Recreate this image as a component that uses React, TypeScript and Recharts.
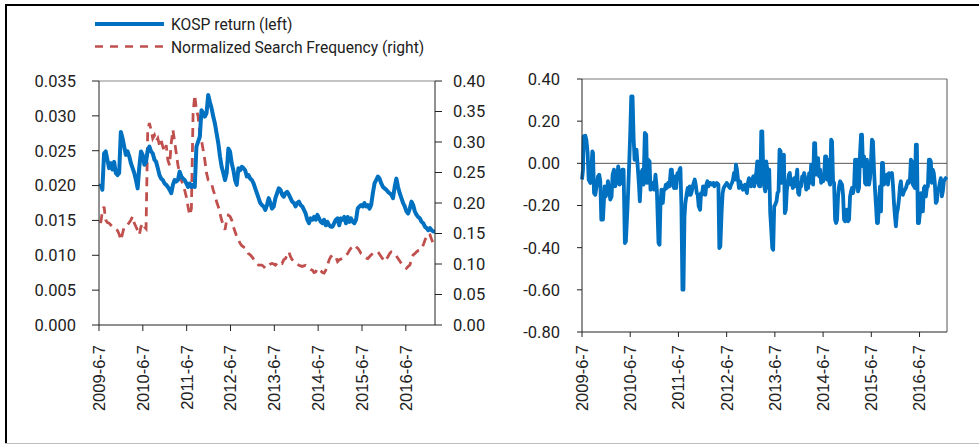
import React from 'react';
import { LineChart, Line, XAxis, YAxis, ReferenceLine } from 'recharts';

// ---------- categories / tick labels ----------
const yearTickLabels = ['2009-6-7', '2010-6-7', '2011-6-7', '2012-6-7', '2013-6-7', '2014-6-7', '2015-6-7', '2016-6-7'];
const WEEKS_PER_YEAR = 52.18;
const yearTicks = yearTickLabels.map((_, i) => i * WEEKS_PER_YEAR);

const leftTicks = [0, 0.005, 0.01, 0.015, 0.02, 0.025, 0.03, 0.035];
const rightTicks = [0, 0.05, 0.1, 0.15, 0.2, 0.25, 0.3, 0.35, 0.4];
const corrTicks = [-0.8, -0.6, -0.4, -0.2, 0, 0.2, 0.4];

// ---------- left panel: bi-weekly observations (week = 2, 4, 6, ...) ----------
const LEFT_FIRST_WEEK = 2;
const LEFT_STEP_WEEKS = 2;

const kospReturn = [
  0.0203, 0.0194, 0.0246, 0.0249, 0.0237, 0.0225, 0.0232, 0.0223, 0.0234, 0.0218,
  0.0215, 0.0218, 0.0277, 0.0268, 0.0256, 0.0244, 0.0249, 0.0242, 0.0232, 0.0225,
  0.0218, 0.0208, 0.0196, 0.0227, 0.0249, 0.0244, 0.0230, 0.0234, 0.0251, 0.0256,
  0.0249, 0.0246, 0.0237, 0.0234, 0.0225, 0.0215, 0.0210, 0.0208, 0.0203, 0.0201,
  0.0198, 0.0194, 0.0189, 0.0201, 0.0208, 0.0206, 0.0208, 0.0220, 0.0213, 0.0210,
  0.0208, 0.0203, 0.0198, 0.0203, 0.0198, 0.0201, 0.0198, 0.0256, 0.0263, 0.0270,
  0.0308, 0.0304, 0.0299, 0.0304, 0.0330, 0.0320, 0.0311, 0.0299, 0.0289, 0.0275,
  0.0261, 0.0242, 0.0227, 0.0218, 0.0208, 0.0218, 0.0253, 0.0249, 0.0232, 0.0222,
  0.0208, 0.0201, 0.0225, 0.0222, 0.0227, 0.0225, 0.0222, 0.0213, 0.0215, 0.0210,
  0.0208, 0.0203, 0.0196, 0.0189, 0.0182, 0.0175, 0.0172, 0.0170, 0.0165, 0.0172,
  0.0182, 0.0175, 0.0167, 0.0170, 0.0182, 0.0189, 0.0196, 0.0194, 0.0187, 0.0184,
  0.0189, 0.0191, 0.0187, 0.0182, 0.0177, 0.0175, 0.0170, 0.0175, 0.0177, 0.0172,
  0.0170, 0.0165, 0.0160, 0.0151, 0.0146, 0.0153, 0.0151, 0.0155, 0.0151, 0.0158,
  0.0153, 0.0148, 0.0146, 0.0151, 0.0143, 0.0148, 0.0143, 0.0141, 0.0141, 0.0146,
  0.0151, 0.0153, 0.0143, 0.0153, 0.0151, 0.0155, 0.0146, 0.0155, 0.0148, 0.0153,
  0.0148, 0.0146, 0.0151, 0.0167, 0.0170, 0.0172, 0.0170, 0.0175, 0.0170, 0.0172,
  0.0167, 0.0172, 0.0189, 0.0203, 0.0208, 0.0213, 0.0210, 0.0203, 0.0198, 0.0196,
  0.0194, 0.0191, 0.0189, 0.0187, 0.0182, 0.0198, 0.0210, 0.0198, 0.0189, 0.0182,
  0.0175, 0.0170, 0.0163, 0.0160, 0.0167, 0.0177, 0.0172, 0.0163, 0.0158, 0.0155,
  0.0153, 0.0148, 0.0146, 0.0141, 0.0139, 0.0136, 0.0139, 0.0136, 0.0134, 0.0134,
];

const searchFreq = [
  0.167, 0.186, 0.194, 0.172, 0.168, 0.167, 0.164, 0.161, 0.160, 0.158,
  0.155, 0.149, 0.139, 0.150, 0.161, 0.162, 0.164, 0.168, 0.172, 0.178,
  0.167, 0.161, 0.155, 0.148, 0.161, 0.167, 0.161, 0.158, 0.320, 0.331,
  0.320, 0.306, 0.311, 0.301, 0.306, 0.295, 0.303, 0.292, 0.284, 0.295,
  0.270, 0.262, 0.298, 0.320, 0.301, 0.281, 0.262, 0.249, 0.238, 0.229,
  0.221, 0.210, 0.194, 0.180, 0.191, 0.347, 0.377, 0.352, 0.342, 0.314,
  0.303, 0.287, 0.270, 0.249, 0.238, 0.236, 0.232, 0.221, 0.213, 0.202,
  0.194, 0.183, 0.172, 0.164, 0.156, 0.172, 0.180, 0.178, 0.172, 0.161,
  0.153, 0.145, 0.139, 0.134, 0.130, 0.128, 0.126, 0.123, 0.117, 0.115,
  0.112, 0.108, 0.104, 0.101, 0.098, 0.098, 0.098, 0.096, 0.093, 0.096,
  0.098, 0.100, 0.101, 0.100, 0.098, 0.101, 0.104, 0.102, 0.101, 0.107,
  0.109, 0.115, 0.120, 0.112, 0.107, 0.104, 0.101, 0.100, 0.098, 0.097,
  0.096, 0.097, 0.098, 0.096, 0.093, 0.091, 0.090, 0.086, 0.087, 0.093,
  0.091, 0.089, 0.086, 0.085, 0.090, 0.098, 0.107, 0.112, 0.115, 0.113,
  0.111, 0.104, 0.107, 0.108, 0.109, 0.112, 0.115, 0.117, 0.122, 0.126,
  0.128, 0.131, 0.128, 0.126, 0.122, 0.117, 0.115, 0.112, 0.110, 0.109,
  0.112, 0.115, 0.117, 0.119, 0.120, 0.120, 0.116, 0.112, 0.108, 0.104,
  0.108, 0.112, 0.117, 0.120, 0.119, 0.117, 0.113, 0.109, 0.105, 0.101,
  0.098, 0.096, 0.093, 0.096, 0.098, 0.107, 0.115, 0.117, 0.120, 0.122,
  0.123, 0.124, 0.131, 0.139, 0.145, 0.150, 0.148, 0.140, 0.134, 0.128,
];

// ---------- right panel: weekly observations ----------
const corrWeeks = [
  0, 1.1, 1.8, 3.6, 4.7, 6.1, 7.2, 9.0, 10.1, 11.2, 11.9,
  13.0, 14.4, 15.8, 17.3, 18.7, 19.8, 20.9, 22.7, 24.5, 25.6,
  27.0, 28.1, 29.2, 30.6, 32.0, 33.1, 34.6, 36.0, 37.8, 39.2,
  40.7, 42.1, 43.5, 45.0, 46.4, 47.5, 49.3, 51.1, 52.2, 53.3,
  54.7, 55.8, 56.9, 57.9, 59.0, 60.5, 61.5, 62.6, 64.1, 65.5,
  66.6, 68.0, 69.5, 70.5, 71.6, 73.1, 74.1, 75.6, 76.7, 78.1,
  79.5, 81.0, 82.8, 83.9, 84.9, 86.0, 87.5, 88.5, 89.6, 90.7,
  91.8, 93.2, 94.7, 96.1, 97.2, 98.3, 99.7, 100.8, 101.9, 103.3,
  104.4, 105.5, 106.5, 107.6, 108.7, 109.8, 110.9, 111.9, 113.4, 114.4,
  115.5, 116.6, 117.7, 118.8, 119.8, 120.9, 122.0, 123.1, 124.2, 125.2,
  126.3, 127.8, 128.8, 129.9, 131.0, 132.4, 133.5, 134.6, 135.7, 136.8,
  137.8, 138.9, 140.0, 141.1, 142.2, 143.2, 144.3, 145.8, 147.6, 148.6,
  149.7, 151.2, 152.2, 153.3, 154.4, 155.5, 156.6, 157.6, 158.7, 160.2,
  161.2, 162.3, 163.4, 164.5, 165.6, 166.6, 167.7, 168.8, 169.9, 171.0,
  172.0, 173.1, 174.2, 175.3, 176.4, 177.4, 178.5, 179.6, 180.7, 181.7,
  182.8, 183.9, 185.3, 186.4, 187.5, 188.6, 189.7, 190.7, 191.8, 192.9,
  194.0, 195.1, 196.1, 197.2, 198.3, 199.4, 200.5, 201.5, 202.6, 203.7,
  204.8, 205.9, 206.9, 208.0, 209.1, 210.5, 211.6, 212.7, 213.8, 214.9,
  215.9, 217.0, 218.5, 219.5, 220.6, 221.7, 222.8, 223.9, 224.9, 226.0,
  227.1, 228.2, 229.6, 230.7, 231.8, 232.9, 233.9, 235.0, 236.1, 237.2,
  238.3, 239.3, 240.4, 241.5, 242.6, 243.7, 244.7, 245.8, 246.9, 248.0,
  249.1, 250.1, 251.2, 252.3, 253.4, 254.5, 255.5, 256.6, 257.7, 258.8,
  259.9, 260.9, 262.0, 263.1, 264.2, 265.2, 266.3, 267.4, 268.5, 269.6,
  270.6, 271.7, 272.8, 273.9, 275.0, 276.0, 277.1, 278.2, 279.3, 280.4,
  281.4, 282.5, 283.6, 284.7, 285.8, 286.8, 287.9, 289.0, 290.1, 291.2,
  292.2, 293.3, 294.4, 295.5, 296.6, 297.6, 298.7, 299.8, 300.9, 302.0,
  303.0, 304.1, 305.2, 306.3, 307.4, 308.4, 309.5, 310.6, 311.7, 312.8,
  313.8, 314.9, 316.0, 317.1, 318.2, 319.2, 320.3, 321.4, 322.5, 323.6,
  324.6, 325.7, 326.8, 327.9, 329.0, 330.0, 331.1, 332.2, 333.3, 334.3,
  335.4, 336.5, 337.6, 338.7, 339.7, 340.8, 341.9, 343.0, 344.1, 345.1,
  346.2, 347.3, 348.4, 349.5, 350.5, 351.6, 352.7, 353.8, 354.9, 355.9,
  357.0, 358.1, 359.2, 360.3, 361.3, 362.4, 363.5, 364.6, 365.7, 366.7,
  367.8, 368.9, 370.0, 371.1, 372.1, 373.2, 374.3, 375.4, 376.5, 377.5,
  378.6, 379.7, 380.7, 381.8, 382.9, 384.0, 385.1, 386.2, 387.2, 388.3,
  389.4, 390.5, 391.6, 392.6, 393.7, 394.8,
];

const corrValues = [
  -0.077, -0.030, 0.128, 0.131, 0.112, 0.049, -0.077, -0.093, -0.030, 0.057, 0.049,
  -0.141, -0.149, -0.109, -0.062, -0.054, -0.085, -0.267, -0.267, -0.109, -0.157,
  -0.133, -0.085, -0.125, -0.172, -0.157, -0.054, -0.030, -0.109, -0.077, -0.014,
  -0.101, -0.093, -0.030, -0.030, -0.378, -0.370, -0.204, 0.002, 0.144, 0.318,
  0.318, 0.128, 0.017, 0.065, 0.065, -0.030, -0.093, -0.180, -0.046, -0.030,
  -0.101, 0.144, 0.136, -0.093, 0.017, 0.009, -0.125, -0.117, -0.093, -0.125,
  -0.054, -0.125, -0.378, -0.386, -0.196, -0.125, -0.188, -0.125, -0.125, -0.101,
  -0.117, -0.093, -0.109, -0.030, -0.030, -0.101, -0.117, -0.062, -0.117, -0.046,
  -0.062, -0.030, -0.022, -0.204, -0.599, -0.599, -0.251, -0.188, -0.141, -0.117,
  -0.149, -0.109, -0.149, -0.133, -0.109, -0.093, -0.077, -0.101, -0.141, -0.149,
  -0.204, -0.220, -0.141, -0.149, -0.109, -0.125, -0.149, -0.101, -0.085, -0.109,
  -0.093, -0.093, -0.101, -0.101, -0.093, -0.109, -0.101, -0.093, -0.101, -0.402,
  -0.394, -0.220, -0.141, -0.117, -0.109, -0.101, -0.093, -0.101, -0.109, -0.117,
  -0.101, -0.093, -0.077, -0.046, -0.077, -0.006, -0.030, -0.077, -0.117, -0.085,
  -0.101, -0.117, -0.125, -0.109, -0.101, -0.125, -0.141, -0.093, -0.070, -0.093,
  -0.109, -0.085, -0.062, -0.109, -0.062, -0.046, 0.009, -0.093, -0.109, -0.109,
  0.152, 0.152, -0.030, -0.109, -0.133, 0.009, -0.030, -0.117, -0.030, -0.236,
  -0.315, -0.402, -0.410, -0.204, -0.196, -0.180, -0.141, -0.133, 0.065, 0.057,
  -0.093, 0.033, 0.041, -0.236, -0.220, -0.125, -0.093, -0.054, -0.046, -0.101,
  -0.093, -0.117, -0.070, -0.109, -0.077, -0.030, -0.141, -0.149, -0.093, -0.109,
  -0.062, -0.070, -0.046, -0.070, -0.125, -0.093, -0.117, -0.046, -0.093, -0.006,
  -0.014, -0.101, 0.096, 0.096, -0.054, -0.030, 0.025, -0.062, -0.030, -0.093,
  -0.070, -0.085, -0.062, 0.033, 0.033, -0.077, 0.017, -0.085, -0.101, 0.112,
  0.104, -0.085, -0.093, -0.267, -0.283, -0.267, -0.157, -0.109, -0.085, -0.093,
  -0.101, -0.149, -0.267, -0.275, -0.267, -0.220, -0.275, -0.267, -0.157, -0.133,
  -0.117, -0.141, -0.117, 0.017, -0.062, 0.017, -0.133, -0.117, 0.049, 0.136,
  0.136, -0.014, 0.033, -0.093, -0.101, 0.017, -0.077, -0.101, -0.070, 0.017,
  0.112, 0.104, -0.030, -0.125, -0.204, -0.283, -0.283, -0.188, -0.109, -0.228,
  0.002, 0.002, -0.101, -0.077, -0.062, -0.054, -0.101, -0.046, -0.054, -0.054,
  -0.046, -0.101, -0.188, -0.251, -0.299, -0.236, -0.212, -0.172, -0.109, -0.085,
  -0.141, -0.149, -0.133, -0.125, -0.117, -0.101, -0.085, -0.093, -0.077, 0.017,
  0.009, -0.101, -0.109, -0.117, 0.089, 0.089, -0.283, -0.283, -0.236, -0.141,
  -0.228, -0.228, -0.117, -0.109, -0.157, -0.117, -0.109, 0.017, 0.017, 0.009,
  -0.093, -0.030, -0.046, -0.093, -0.188, -0.180, -0.125, -0.117, -0.093, -0.070,
  -0.157, -0.133, -0.085, -0.077, -0.070, -0.065,
];

// ---------- tables built from the arrays ----------
const leftData = kospReturn.map((v, i) => ({
  week: LEFT_FIRST_WEEK + LEFT_STEP_WEEKS * i,
  kosp: v,
  search: searchFreq[i],
}));
const rightData = corrWeeks.map((w, i) => ({ week: w, corr: corrValues[i] }));

const BLUE = '#0070C0';
const RED = '#C0504D';
const AXIS = '#222222';
const TEXT = '#222222';
const NUM_FONT = 'Roboto, "Open Sans", sans-serif';
const DATE_FONT = '"Liberation Sans", Arial, sans-serif';

const DateTick = (props: any) => {
  const { x, y, payload } = props;
  const idx = Math.round(payload.value / WEEKS_PER_YEAR);
  return (
    <text
      x={x}
      y={y}
      dy="0.36em"
      textAnchor="end"
      transform={`rotate(-90, ${x}, ${y})`}
      fontFamily={DATE_FONT}
      fontSize={16.5}
      fill={TEXT}
    >
      {yearTickLabels[idx]}
    </text>
  );
};

const numTick = { fontFamily: NUM_FONT, fontSize: 16.5, fill: TEXT };

export default function App() {
  return (
    <div style={{ position: 'absolute', left: 0, top: 0, width: 979, height: 445, background: '#fff', overflow: 'hidden' }}>
      {/* frame + legend */}
      <svg width={979} height={445} style={{ position: 'absolute', left: 0, top: 0 }}>
        <line x1={5} y1={5} x2={979} y2={5} stroke="#000" strokeWidth={2} />
        <line x1={6} y1={4} x2={6} y2={444} stroke="#000" strokeWidth={2} />
        <line x1={5} y1={443.5} x2={979} y2={443.5} stroke="#bdbdbd" strokeWidth={1} />
        <line x1={95} y1={24} x2={164} y2={24} stroke={BLUE} strokeWidth={4} />
        <text x={171} y={24} dy="0.36em" fontFamily={NUM_FONT} fontSize={15.6} fill={TEXT}>KOSP return (left)</text>
        <line x1={95} y1={46.5} x2={164} y2={46.5} stroke={RED} strokeWidth={2.6} strokeDasharray="8 7" />
        <text x={171} y={47} dy="0.36em" fontFamily={NUM_FONT} fontSize={15.6} fill={TEXT}>Normalized Search Frequency (right)</text>
      </svg>

      {/* left panel */}
      <div style={{ position: 'absolute', left: 0, top: 0 }}>
        <LineChart width={490} height={445} data={leftData} margin={{ top: 81, right: 0, bottom: 0, left: 0 }}>
          <XAxis
            type="number"
            dataKey="week"
            domain={[0, 400]}
            ticks={yearTicks}
            interval={0}
            height={120}
            tickSize={6}
            tickMargin={14}
            stroke={AXIS}
            tick={<DateTick />}
          />
          <YAxis
            yAxisId="l"
            domain={[0, 0.035]}
            ticks={leftTicks}
            interval={0}
            width={99}
            tickSize={7}
            tickMargin={16}
            stroke={AXIS}
            tick={numTick}
            tickFormatter={(v: number) => v.toFixed(3)}
          />
          <YAxis
            yAxisId="r"
            orientation="right"
            domain={[0, 0.4]}
            ticks={rightTicks}
            interval={0}
            width={55}
            tickSize={7}
            tickMargin={11}
            stroke={AXIS}
            tick={numTick}
            tickFormatter={(v: number) => v.toFixed(2)}
          />
          <ReferenceLine yAxisId="l" y={0.035} stroke="#888" strokeWidth={1} />
          <Line
            yAxisId="r"
            type="linear"
            dataKey="search"
            stroke={RED}
            strokeWidth={2.8}
            strokeDasharray="9 6"
            dot={false}
            isAnimationActive={false}
          />
          <Line
            yAxisId="l"
            type="linear"
            dataKey="kosp"
            stroke={BLUE}
            strokeWidth={4}
            strokeLinejoin="round"
            dot={false}
            isAnimationActive={false}
          />
        </LineChart>
      </div>

      {/* right panel */}
      <div style={{ position: 'absolute', left: 490, top: 0 }}>
        <LineChart width={489} height={445} data={rightData} margin={{ top: 79, right: 32, bottom: 0, left: 0 }}>
          <XAxis
            type="number"
            dataKey="week"
            domain={[0, 395]}
            ticks={yearTicks}
            interval={0}
            height={113}
            tickSize={5}
            tickMargin={8}
            stroke={AXIS}
            tick={<DateTick />}
          />
          <YAxis
            domain={[-0.8, 0.4]}
            ticks={corrTicks}
            interval={0}
            width={92}
            tickSize={5}
            tickMargin={17}
            stroke={AXIS}
            tick={numTick}
            tickFormatter={(v: number) => v.toFixed(2)}
          />
          <ReferenceLine y={0.4} stroke="#777" strokeWidth={1} />
          <ReferenceLine x={395} stroke="#555" strokeWidth={1} />
          <ReferenceLine y={0} stroke="#555" strokeWidth={1} />
          <Line
            type="linear"
            dataKey="corr"
            stroke={BLUE}
            strokeWidth={3.8}
            strokeLinejoin="round"
            dot={false}
            isAnimationActive={false}
          />
        </LineChart>
      </div>
    </div>
  );
}
